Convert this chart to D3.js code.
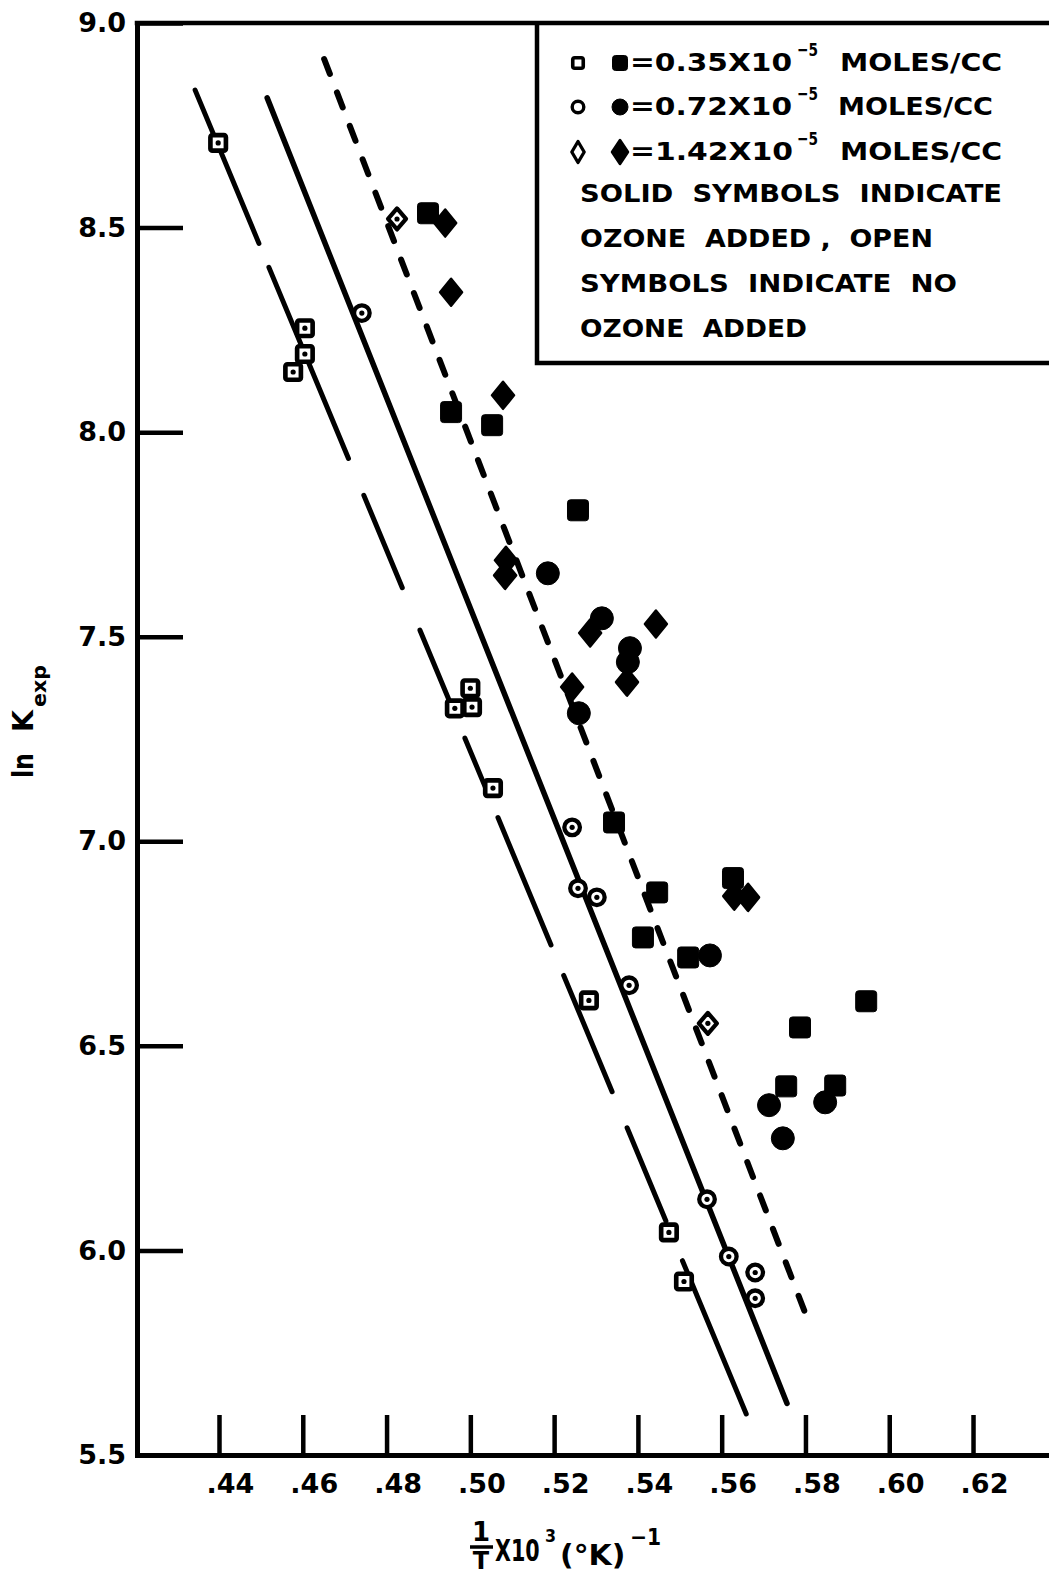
<!DOCTYPE html>
<html>
<head>
<meta charset="utf-8">
<script src="https://cdn.jsdelivr.net/npm/d3@7"></script>
<style>
  body { margin: 0; background: #fff; }
  text { font-family: "DejaVu Sans", sans-serif; font-weight: bold; fill: #000; }
</style>
</head>
<body>
<script>
//Data
    const openSquareX = [0.4398, 0.4605, 0.4605, 0.4577, 0.5000, 0.5004, 0.4963, 0.5054, 0.5283, 0.5474, 0.5510];
    const openSquareY = [8.707, 8.254, 8.191, 8.147, 7.374, 7.328, 7.325, 7.130, 6.611, 6.044, 5.924];

    const openCircleX = [0.4741, 0.5243, 0.5257, 0.5302, 0.5379, 0.5565, 0.5617, 0.5680, 0.5680];
    const openCircleY = [8.291, 7.034, 6.885, 6.863, 6.648, 6.125, 5.985, 5.946, 5.883];

    const openDiamondX = [0.4825, 0.5567];
    const openDiamondY = [8.521, 6.555];

    const solidSquareX = [0.4899, 0.4954, 0.5052, 0.5257, 0.5343, 0.5412, 0.5446, 0.5520, 0.5627, 0.5754, 0.5787, 0.5871, 0.5945];
    const solidSquareY = [8.535, 8.049, 8.017, 7.809, 7.046, 6.765, 6.875, 6.716, 6.910, 6.401, 6.545, 6.403, 6.609];

    const solidCircleX = [0.5185, 0.5314, 0.5381, 0.5376, 0.5259, 0.5572, 0.5713, 0.5847, 0.5746];
    const solidCircleY = [7.655, 7.545, 7.472, 7.438, 7.313, 6.721, 6.355, 6.362, 6.274];

    const solidDiamondX = [0.4940, 0.4954, 0.5078, 0.5085, 0.5083, 0.5286, 0.5443, 0.5374, 0.5243, 0.5663, 0.5630];
    const solidDiamondY = [8.511, 8.342, 8.090, 7.687, 7.650, 7.509, 7.531, 7.389, 7.377, 6.863, 6.866];

    //fitted lines (two end points each)
    const longDashX = [0.4343, 0.5660];
    const longDashY = [8.836, 5.597];
    const solidLineX = [0.4515, 0.5756];
    const solidLineY = [8.817, 5.626];
    const shortDashX = [0.4651, 0.5799];
    const shortDashY = [8.912, 5.848];

    const xTicks = [0.44, 0.46, 0.48, 0.50, 0.52, 0.54, 0.56, 0.58, 0.60, 0.62];
    const yTicks = [5.5, 6.0, 6.5, 7.0, 7.5, 8.0, 8.5, 9.0];

    const legendValues = ["=0.35X10", "=0.72X10", "=1.42X10"];
    const legendUnit = "MOLES/CC";
    const legendNote = ["SOLID SYMBOLS INDICATE", "OZONE ADDED , OPEN", "SYMBOLS INDICATE NO", "OZONE ADDED"];


//Set up dimensions
    const width = 1049;
    const height = 1576;
    const plotLeft = 137, plotRight = 1049, plotTop = 23, plotBottom = 1455;


//Set up scales
    const xScale = d3.scaleLinear()
                    .domain([0.44 - 82 / 4189, 0.44 + 912 / 4189])
                    .range([plotLeft, plotLeft + 994]);

    const yScale = d3.scaleLinear()
                    .domain([5.5, 9.0])
                    .range([plotBottom, plotTop]);


//Make the SVG
    const svg = d3.select("body")
                .append("svg")
                .attr("width", width)
                .attr("height", height);


//Axes
    const leftAxis = d3.axisLeft(yScale)
                       .tickValues(yTicks)
                       .tickFormat(d3.format(".1f"))
                       .tickSize(-46)
                       .tickSizeOuter(0)
                       .tickPadding(11);

    const bottomAxis = d3.axisBottom(xScale)
                         .tickValues(xTicks)
                         .tickFormat(d => d3.format(".2f")(d).slice(1))
                         .tickSize(-40)
                         .tickSizeOuter(0)
                         .tickPadding(19);

    const gy = svg.append("g")
        .attr("transform", "translate(" + plotLeft + ",0)")
        .call(leftAxis);

    const gx = svg.append("g")
        .attr("transform", "translate(0," + plotBottom + ")")
        .call(bottomAxis);

    [gx, gy].forEach(g => {
        g.attr("font-family", null).attr("font-size", null);
        g.select(".domain").attr("stroke-width", 5).attr("stroke-linecap", "square");
        g.selectAll(".tick line").attr("stroke-width", 4.5);
        g.selectAll(".tick text").attr("font-size", 27).attr("fill", "#000");
    });
    gx.selectAll(".tick text").attr("dx", 11);

    //top frame line
    svg.append("line")
        .attr("x1", plotLeft).attr("x2", plotRight)
        .attr("y1", plotTop).attr("y2", plotTop)
        .attr("stroke", "#000").attr("stroke-width", 4.5)
        .attr("stroke-linecap", "square");


//Fitted lines
    function fitLine(xs, ys) {
        return svg.append("line")
            .attr("x1", xScale(xs[0])).attr("y1", yScale(ys[0]))
            .attr("x2", xScale(xs[1])).attr("y2", yScale(ys[1]))
            .attr("stroke", "#000")
            .attr("fill", "none");
    }

    fitLine(longDashX, longDashY)
        .attr("stroke-width", 5)
        .attr("stroke-linecap", "round")
        .attr("stroke-dasharray", "166,26,207,40,100,46,84,33,53,33,138,33,126,39,101,43,166");

    fitLine(solidLineX, solidLineY)
        .attr("stroke-width", 5.5)
        .attr("stroke-linecap", "round");

    fitLine(shortDashX, shortDashY)
        .attr("stroke-width", 6)
        .attr("stroke-linecap", "round")
        .attr("stroke-dasharray", "16,19.8");


//Markers
    function pts(xs, ys) {
        return xs.map((x, i) => ({ x: x, y: ys[i] }));
    }

    function diamondPath(w, h) {
        return "M0," + (-h) + "L" + w + ",0L0," + h + "L" + (-w) + ",0Z";
    }

    function drawSquare(g, s, filled, sw) {
        g.append("rect")
            .attr("x", -s / 2).attr("y", -s / 2)
            .attr("width", s).attr("height", s)
            .attr("rx", filled ? 3 : 2)
            .attr("fill", filled ? "#000" : "#fff")
            .attr("stroke", "#000")
            .attr("stroke-width", filled ? 1 : (sw || s * 0.3));
    }

    function drawCircle(g, r, filled, sw) {
        g.append("circle")
            .attr("r", r)
            .attr("fill", filled ? "#000" : "#fff")
            .attr("stroke", "#000")
            .attr("stroke-width", filled ? 1 : (sw || r * 0.55));
    }

    function drawDiamond(g, w, h, filled, sw) {
        g.append("path")
            .attr("d", diamondPath(w, h))
            .attr("fill", filled ? "#000" : "#fff")
            .attr("stroke", "#000")
            .attr("stroke-linejoin", "round")
            .attr("stroke-width", filled ? 2.5 : (sw || 4.2));
    }

    function dot(g) {
        g.append("circle").attr("r", 2.6).attr("fill", "#000");
    }

    function markers(data, draw) {
        svg.append("g")
            .selectAll("g")
            .data(data)
            .enter()
            .append("g")
            .attr("transform", d => "translate(" + xScale(d.x) + "," + yScale(d.y) + ")")
            .each(function () { draw(d3.select(this)); });
    }

    markers(pts(openSquareX, openSquareY), g => { drawSquare(g, 15.5, false); dot(g); });
    markers(pts(openCircleX, openCircleY), g => { drawCircle(g, 7.8, false); dot(g); });
    markers(pts(openDiamondX, openDiamondY), g => { drawDiamond(g, 9, 10.5, false); dot(g); });
    markers(pts(solidSquareX, solidSquareY), g => drawSquare(g, 21, true));
    markers(pts(solidCircleX, solidCircleY), g => drawCircle(g, 11.5, true));
    markers(pts(solidDiamondX, solidDiamondY), g => drawDiamond(g, 11, 13.5, true));


//Legend box
    svg.append("path")
        .attr("d", "M537," + plotTop + "V363H" + plotRight)
        .attr("fill", "none")
        .attr("stroke", "#000")
        .attr("stroke-width", 4.5);

    const legend = svg.append("g");
    const rowBase = [71, 115, 160];
    const valueLen = [162, 162, 163];
    const unitX = [840, 838, 840];
    const unitLen = [162, 155, 162];

    legendValues.forEach((v, i) => {
        const b = rowBase[i];
        const gOpen = legend.append("g").attr("transform", "translate(578," + (b - 8) + ")");
        const gSolid = legend.append("g").attr("transform", "translate(620," + (b - 8) + ")");
        if (i === 0) { drawSquare(gOpen, 10.5, false, 3.6); drawSquare(gSolid, 15, true); }
        if (i === 1) { drawCircle(gOpen, 5.8, false, 3.4); drawCircle(gSolid, 8, true); }
        if (i === 2) { drawDiamond(gOpen, 6.2, 10.5, false, 3.3); drawDiamond(gSolid, 8, 12, true); }

        legend.append("text")
            .attr("x", 630).attr("y", b)
            .attr("font-size", 24)
            .attr("textLength", valueLen[i])
            .attr("lengthAdjust", "spacingAndGlyphs")
            .text(v);
        legend.append("text")
            .attr("x", 797).attr("y", b - 15)
            .attr("font-size", 18)
            .attr("textLength", 21)
            .attr("lengthAdjust", "spacingAndGlyphs")
            .text("\u22125");
        legend.append("text")
            .attr("x", unitX[i]).attr("y", b)
            .attr("font-size", 24)
            .attr("textLength", unitLen[i])
            .attr("lengthAdjust", "spacingAndGlyphs")
            .text(legendUnit);
    });

    const noteBase = [202, 247, 292, 337];
    const noteLen = [422, 353, 377, 227];
    legendNote.forEach((t, i) => {
        legend.append("text")
            .attr("x", 580).attr("y", noteBase[i])
            .attr("font-size", 25)
            .attr("textLength", noteLen[i])
            .attr("lengthAdjust", "spacingAndGlyphs")
            .style("white-space", "pre")
            .text(t.replace(/ /g, "  ").replace("  ,", " ,"));
    });


//Axis titles
    function squeezed(g, x, y, size, sx, txt) {
        g.append("text")
            .attr("transform", "translate(" + x + "," + y + ") scale(" + sx + ",1)")
            .attr("font-size", size)
            .text(txt);
    }

    const xt = svg.append("g");
    xt.append("text").attr("x", 481).attr("y", 1541).attr("font-size", 26)
        .attr("text-anchor", "middle").text("1");
    xt.append("line").attr("x1", 470).attr("x2", 493).attr("y1", 1547).attr("y2", 1547)
        .attr("stroke", "#000").attr("stroke-width", 3.5);
    xt.append("text").attr("x", 481).attr("y", 1569).attr("font-size", 24)
        .attr("text-anchor", "middle").text("T");
    squeezed(xt, 495, 1561, 30, 0.69, "X10");
    squeezed(xt, 545, 1542, 18, 0.88, "3");
    squeezed(xt, 560, 1565, 29, 1.03, "(\u00b0K)");
    squeezed(xt, 630, 1545, 23, 0.88, "\u22121");

    const yt = svg.append("g").attr("transform", "translate(33,778) rotate(-90)");
    yt.append("text").attr("x", 0).attr("y", 0).attr("font-size", 28)
        .attr("textLength", 25).attr("lengthAdjust", "spacingAndGlyphs").text("ln");
    yt.append("text").attr("x", 46).attr("y", 0).attr("font-size", 28)
        .attr("textLength", 22).attr("lengthAdjust", "spacingAndGlyphs").text("K");
    yt.append("text").attr("x", 71).attr("y", 13).attr("font-size", 19)
        .attr("textLength", 42).attr("lengthAdjust", "spacingAndGlyphs").text("exp");
</script>
</body>
</html>
